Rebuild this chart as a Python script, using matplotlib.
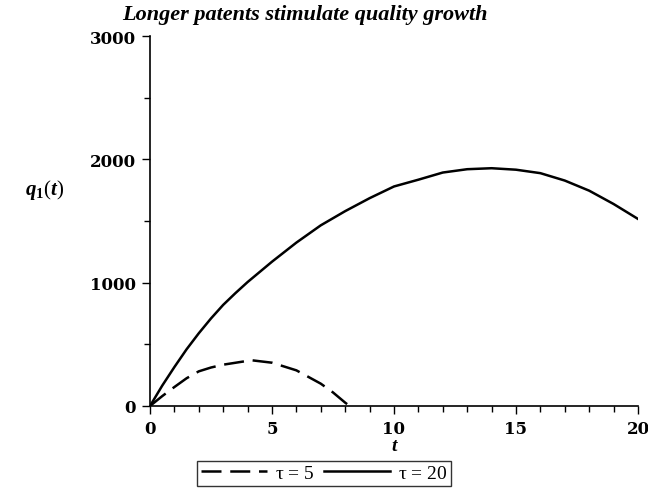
import numpy as np
import matplotlib.pyplot as plt
from matplotlib.ticker import MultipleLocator

# values
t_long = [0, 0.5, 1, 1.5, 2, 2.5, 3, 3.5, 4, 5, 6, 7, 8, 9, 10, 11, 12, 13, 14, 15,
          16, 17, 18, 19, 20]
q_long = [0, 165, 316, 460, 590, 710, 820, 915, 1005, 1170, 1325, 1465, 1580, 1685, 1780,
          1835, 1893, 1920, 1928, 1916, 1888, 1828, 1746, 1638, 1517]

t_short = [0, 0.5, 1, 1.5, 2, 2.5, 3, 4, 4.2, 5, 6, 7, 7.5, 8, 8.18]
q_short = [0, 80, 154, 225, 281, 312, 335, 366, 370, 351, 289, 181, 110, 27, 0]

labels = [r"$\mathregular{\tau}$ = 5", r"$\mathregular{\tau}$ = 20"]

plt.rcParams['font.family'] = ['Liberation Serif', 'DejaVu Serif']
plt.rcParams['mathtext.fontset'] = 'custom'
plt.rcParams['mathtext.rm'] = 'Liberation Serif'
plt.rcParams['mathtext.it'] = 'Liberation Serif:italic'
plt.rcParams['mathtext.bf'] = 'Liberation Serif:bold'
plt.rcParams['mathtext.bfit'] = 'Liberation Serif:italic:bold'

fig = plt.figure(figsize=(6.48, 4.89), dpi=100)
ax = fig.add_axes([0.2315, 0.1677, 0.753, 0.7566])

l1, = ax.plot(t_short, q_short, color='black', lw=1.8, linestyle=(0, (8, 3.5)))
l2, = ax.plot(t_long, q_long, color='black', lw=1.8)

ax.set_xlim(0, 20)
ax.set_ylim(0, 3000)
ax.xaxis.set_major_locator(MultipleLocator(5))
ax.xaxis.set_minor_locator(MultipleLocator(1))
ax.yaxis.set_major_locator(MultipleLocator(1000))
ax.yaxis.set_minor_locator(MultipleLocator(500))
ax.tick_params(which='major', direction='out', length=6, width=1, pad=4)
ax.tick_params(which='minor', direction='out', length=4, width=1)
for lab in ax.get_xticklabels() + ax.get_yticklabels():
    lab.set_fontfamily('DejaVu Serif')
    lab.set_fontweight('bold')
    lab.set_fontsize(12)

ax.spines['top'].set_visible(False)
ax.spines['right'].set_visible(False)
ax.spines['left'].set_linewidth(1.2)
ax.spines['bottom'].set_linewidth(1.2)

fig.text(0.471, 0.969, "Longer patents stimulate quality growth", fontsize=16,
         fontweight='bold', fontstyle='italic', ha='center', va='center')
fig.text(0.038, 0.612, r"$\boldsymbol{q}_{\mathbf{1}}(\boldsymbol{t})$", fontsize=15,
         va='center', ha='left')
ax.set_xlabel("t", fontsize=14, fontweight='bold', fontstyle='italic', labelpad=0)

fig.legend([l1, l2], labels, ncol=2, loc='lower center', bbox_to_anchor=(0.5, 0.0),
           frameon=True, fancybox=False, edgecolor='black', fontsize=14,
           handlelength=3.4, columnspacing=0.5, handletextpad=0.4, borderpad=0.2,
           borderaxespad=0.1)

fig.savefig("out.png", dpi=100)
